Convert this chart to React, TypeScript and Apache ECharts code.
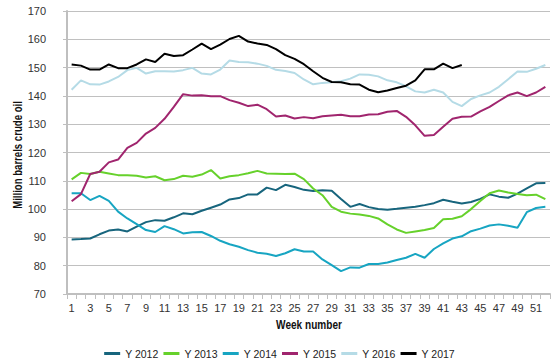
import React, { useEffect, useRef } from "react";
import * as echarts from "echarts";

const weeks: string[] = Array.from({ length: 52 }, (_, i) => String(i + 1));

const y2012 = [89.3, 89.4, 89.6, 91.1, 92.4, 92.8, 92.1, 93.8, 95.4, 96.1, 95.9, 97.1, 98.5, 98.2, 99.4, 100.5, 101.6, 103.4, 103.9, 105.2, 105.2, 107.6, 106.7, 108.6, 107.8, 106.8, 106.4, 106.7, 106.5, 103.6, 100.8, 101.8, 100.7, 100.0, 99.8, 100.1, 100.5, 100.8, 101.4, 102.1, 103.3, 102.6, 102.0, 102.5, 103.6, 105.2, 104.4, 104.0, 105.5, 107.3, 109.1, 109.2];
const y2013 = [110.5, 112.8, 112.4, 113.2, 112.6, 112.0, 112.0, 111.8, 111.2, 111.6, 110.2, 110.6, 111.8, 111.4, 112.2, 113.8, 110.8, 111.6, 112.0, 112.7, 113.5, 112.6, 112.5, 112.4, 112.5, 110.6, 107.3, 104.9, 100.8, 99.1, 98.4, 98.1, 97.6, 96.7, 94.6, 92.8, 91.6, 92.1, 92.6, 93.3, 96.4, 96.6, 97.5, 100.0, 102.9, 105.6, 106.6, 105.9, 105.3, 104.9, 105.1, 103.5];
const y2014 = [105.6, 105.6, 103.2, 104.7, 102.9, 99.1, 96.7, 94.7, 92.6, 91.9, 94.0, 92.9, 91.4, 91.8, 91.9, 90.5, 88.8, 87.6, 86.7, 85.5, 84.6, 84.2, 83.4, 84.4, 85.8, 85.0, 85.0, 82.2, 80.2, 78.1, 79.4, 79.3, 80.6, 80.6, 81.1, 82.0, 82.8, 84.2, 82.8, 85.9, 87.9, 89.6, 90.4, 92.2, 93.1, 94.2, 94.6, 94.1, 93.4, 98.9, 100.4, 100.8];
const y2015 = [102.8, 105.3, 112.4, 113.2, 116.5, 117.5, 121.6, 123.4, 126.7, 128.7, 131.9, 136.1, 140.6, 140.1, 140.2, 139.9, 139.9, 138.5, 137.6, 136.4, 136.9, 135.3, 132.7, 133.1, 132.0, 132.5, 132.1, 132.8, 133.1, 133.3, 132.8, 132.8, 133.4, 133.5, 134.4, 134.7, 132.6, 129.6, 125.9, 126.2, 129.1, 131.9, 132.6, 132.7, 134.5, 136.1, 138.2, 140.2, 141.2, 139.9, 141.2, 143.2];
const y2016 = [142.2, 145.5, 144.1, 144.0, 145.1, 146.7, 149.1, 149.9, 147.9, 148.7, 148.7, 148.6, 149.1, 149.9, 147.9, 147.6, 149.3, 152.5, 152.0, 151.9, 151.4, 150.6, 149.2, 148.8, 148.1, 145.8, 144.1, 144.6, 144.8, 145.2, 146.1, 147.6, 147.5, 146.9, 145.5, 144.8, 143.4, 141.6, 141.2, 142.2, 141.2, 137.9, 136.4, 138.9, 140.2, 141.2, 143.2, 145.9, 148.6, 148.5, 149.6, 150.9];
const y2017 = [151.1, 150.7, 149.3, 149.3, 151.1, 149.8, 149.8, 151.1, 152.9, 152.0, 154.9, 154.1, 154.4, 156.4, 158.5, 156.5, 158.1, 160.1, 161.2, 159.2, 158.5, 158.0, 156.5, 154.4, 153.1, 151.2, 148.7, 146.4, 144.9, 144.8, 144.1, 144.0, 142.2, 141.3, 141.9, 142.8, 143.6, 145.5, 149.4, 149.4, 151.4, 149.8, 150.9];

const seriesNames = ["Y 2012", "Y 2013", "Y 2014", "Y 2015", "Y 2016", "Y 2017"];
const seriesData = [y2012, y2013, y2014, y2015, y2016, y2017];
const colors = ["#17657d", "#66d12b", "#17a5c2", "#a0256e", "#b5dbe6", "#000000"];

const xTitle = "Week number";
const yTitle = "Million barrels crude oil";

const FONT = "'Liberation Sans', Arial, sans-serif";

export default function App() {
  const ref = useRef<HTMLDivElement>(null);
  useEffect(() => {
    if (!ref.current) return;
    const chart = echarts.init(ref.current, null, { renderer: "svg" });
    chart.setOption({
      animation: false,
      backgroundColor: "#ffffff",
      textStyle: { fontFamily: FONT },
      grid: { left: 67, right: 9, top: 11, bottom: 70 },
      legend: {
        data: seriesNames,
        top: 343,
        left: "center",
        icon: "rect",
        itemWidth: 16,
        itemHeight: 3,
        itemGap: 5,
        textStyle: { fontFamily: FONT, fontSize: 10.5, color: "#222" },
      },
      graphic: [
        {
          type: "text",
          x: 309,
          y: 325,
          scaleX: 0.84,
          style: {
            text: xTitle,
            fontFamily: FONT,
            fontSize: 12,
            fontWeight: "bold",
            fill: "#111",
            align: "center",
            verticalAlign: "middle",
          },
        },
        {
          type: "text",
          x: 18,
          y: 155,
          rotation: Math.PI / 2,
          scaleX: 0.8,
          style: {
            text: yTitle,
            fontFamily: FONT,
            fontSize: 12,
            fontWeight: "bold",
            fill: "#111",
            align: "center",
            verticalAlign: "middle",
          },
        },
      ],
      xAxis: {
        type: "category",
        data: weeks,
        boundaryGap: true,
        axisLine: { lineStyle: { color: "#bfbfbf", width: 2 } },
        axisTick: { show: true, interval: 0, length: 5, lineStyle: { color: "#bfbfbf" } },
        axisLabel: { interval: 1, fontFamily: FONT, fontSize: 11, color: "#333", margin: 8 },
        splitLine: { show: false },
      },
      yAxis: {
        type: "value",
        min: 70,
        max: 170,
        interval: 10,
        axisLine: { show: true, lineStyle: { color: "#bfbfbf", width: 2 } },
        axisTick: { show: true, length: 4, lineStyle: { color: "#bfbfbf" } },
        axisLabel: { fontFamily: FONT, fontSize: 11, color: "#333", margin: 21 },
        splitLine: { lineStyle: { color: "#c0c0c0", width: 1 } },
      },
      series: seriesNames.map((name, i) => ({
        name,
        type: "line",
        data: seriesData[i],
        symbol: "none",
        smooth: false,
        lineStyle: { color: colors[i], width: 2 },
        itemStyle: { color: colors[i] },
      })),
    });
    return () => chart.dispose();
  }, []);
  return <div ref={ref} style={{ position: "fixed", left: 0, top: 0, width: 559, height: 364 }} />;
}
